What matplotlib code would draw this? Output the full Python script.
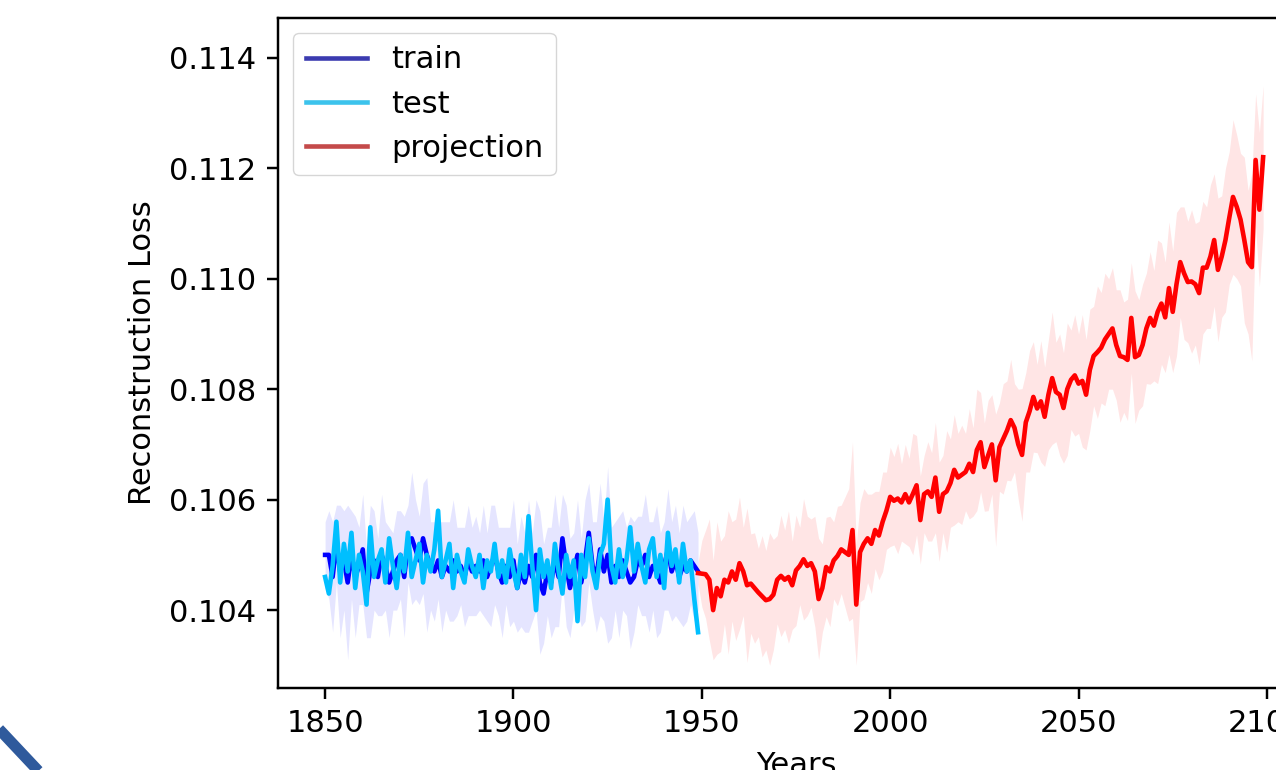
import numpy as np
import matplotlib
matplotlib.use("Agg")
import matplotlib.pyplot as plt
from matplotlib.lines import Line2D

# ---------------- data ----------------
hist_start = 1850
proj_start = 1949

train = [0.1050, 0.1050, 0.1046, 0.1052, 0.1047, 0.1049, 0.1045, 0.1050, 0.1046, 0.1048,
         0.1051, 0.1043, 0.1047, 0.1049, 0.1046, 0.1050, 0.1048, 0.1045, 0.1047, 0.1049,
         0.1050, 0.1046, 0.1052, 0.1053, 0.1051, 0.1049, 0.1053, 0.1050, 0.1048, 0.1047,
         0.1049, 0.1046, 0.1048, 0.1047, 0.1049, 0.1047, 0.1048, 0.1046, 0.1049, 0.1047,
         0.1048, 0.1047, 0.1049, 0.1046, 0.1048, 0.1050, 0.1047, 0.1045, 0.1048, 0.1046,
         0.1049, 0.1044, 0.1047, 0.1045, 0.1048, 0.1046, 0.1050, 0.1045, 0.1043, 0.1047,
         0.1045, 0.1049, 0.1046, 0.1053, 0.1048, 0.1044, 0.1047, 0.1050, 0.1045, 0.1049,
         0.1054, 0.1048, 0.1046, 0.1051, 0.1047, 0.1050, 0.1045, 0.1048, 0.1046, 0.1049,
         0.1047, 0.1045, 0.1046, 0.1049, 0.1048, 0.1050, 0.1046, 0.1048, 0.1047, 0.1045,
         0.1048, 0.1051, 0.1047, 0.1049, 0.1046, 0.1048, 0.1047, 0.1049, 0.1048, 0.1047]

train_std = [0.0006, 0.0008, 0.0010, 0.0007, 0.0012, 0.0009, 0.0014, 0.0008, 0.0011, 0.0007,
             0.0010, 0.0008, 0.0012, 0.0009, 0.0007, 0.0011, 0.0008, 0.0010, 0.0007, 0.0009,
             0.0008, 0.0011, 0.0007, 0.0012, 0.0009, 0.0008, 0.0010, 0.0014, 0.0008, 0.0009,
             0.0007, 0.0010, 0.0008, 0.0009, 0.0011, 0.0008, 0.0007, 0.0009, 0.0010, 0.0008,
             0.0009, 0.0007, 0.0010, 0.0008, 0.0011, 0.0009, 0.0008, 0.0010, 0.0007, 0.0009,
             0.0011, 0.0008, 0.0010, 0.0009, 0.0012, 0.0008, 0.0010, 0.0013, 0.0009, 0.0008,
             0.0010, 0.0012, 0.0009, 0.0008, 0.0011, 0.0009, 0.0007, 0.0010, 0.0008, 0.0011,
             0.0009, 0.0008, 0.0010, 0.0012, 0.0009, 0.0016, 0.0010, 0.0008, 0.0011, 0.0009,
             0.0008, 0.0012, 0.0010, 0.0008, 0.0009, 0.0011, 0.0010, 0.0008, 0.0012, 0.0009,
             0.0008, 0.0011, 0.0009, 0.0010, 0.0008, 0.0011, 0.0009, 0.0008, 0.0010, 0.0007]

test = [0.1046, 0.1043, 0.1048, 0.1056, 0.1045, 0.1052, 0.1047, 0.1054, 0.1044, 0.1050,
        0.1047, 0.1041, 0.1055, 0.1046, 0.1049, 0.1051, 0.1045, 0.1053, 0.1048, 0.1044,
        0.1050, 0.1047, 0.1054, 0.1046, 0.1049, 0.1052, 0.1045, 0.1050, 0.1047, 0.1051,
        0.1058, 0.1046, 0.1049, 0.1052, 0.1044, 0.1050, 0.1047, 0.1045, 0.1051, 0.1048,
        0.1046, 0.1050, 0.1044, 0.1049, 0.1047, 0.1052, 0.1046, 0.1049, 0.1045, 0.1051,
        0.1047, 0.1044, 0.1050, 0.1046, 0.1057, 0.1048, 0.1040, 0.1051, 0.1046, 0.1049,
        0.1044, 0.1052, 0.1047, 0.1043, 0.1050, 0.1046, 0.1049, 0.1038, 0.1050, 0.1046,
        0.1053, 0.1047, 0.1044, 0.1050, 0.1052, 0.1060, 0.1048, 0.1045, 0.1051, 0.1046,
        0.1049, 0.1055, 0.1047, 0.1052, 0.1048, 0.1045, 0.1051, 0.1053, 0.1046, 0.1050,
        0.1044, 0.1054, 0.1048, 0.1051, 0.1045, 0.1052, 0.1047, 0.1049, 0.1042, 0.1036]

projection = [0.10467, 0.10466, 0.10465, 0.10455, 0.10400, 0.10440, 0.10425, 0.10455, 0.10450, 0.10470,
              0.10455, 0.10485, 0.10470, 0.10445, 0.10448, 0.10440, 0.10432, 0.10425, 0.10418, 0.10420,
              0.10428, 0.10455, 0.10462, 0.10455, 0.10460, 0.10445, 0.10472, 0.10480, 0.10492, 0.10480,
              0.10485, 0.10470, 0.10420, 0.10440, 0.10478, 0.10470, 0.10490, 0.10498, 0.10510, 0.10505,
              0.10500, 0.10545, 0.10410, 0.10505, 0.10520, 0.10530, 0.10520, 0.10545, 0.10535, 0.10560,
              0.10580, 0.10605, 0.10598, 0.10602, 0.10595, 0.10610, 0.10595, 0.10610, 0.10626, 0.10563,
              0.10610, 0.10615, 0.10605, 0.10640, 0.10578, 0.10610, 0.10615, 0.10630, 0.10654, 0.10640,
              0.10645, 0.10650, 0.10665, 0.10650, 0.10690, 0.10704, 0.10659, 0.10680, 0.10700, 0.10635,
              0.10695, 0.10710, 0.10725, 0.10744, 0.10730, 0.10700, 0.10681, 0.10740, 0.10760, 0.10786,
              0.10765, 0.10778, 0.10750, 0.10790, 0.10820, 0.10795, 0.10790, 0.10766, 0.10800, 0.10817,
              0.10825, 0.10810, 0.10815, 0.10790, 0.10835, 0.10860, 0.10867, 0.10875, 0.10890, 0.10900,
              0.10910, 0.10880, 0.10860, 0.10858, 0.10853, 0.10929, 0.10858, 0.10862, 0.10880, 0.10910,
              0.10929, 0.10915, 0.10940, 0.10955, 0.10930, 0.10983, 0.10940, 0.10990, 0.11030, 0.11010,
              0.10994, 0.10995, 0.10990, 0.10974, 0.11020, 0.11020, 0.11040, 0.11070, 0.11016, 0.11040,
              0.11070, 0.11110, 0.11148, 0.11130, 0.11107, 0.11070, 0.11030, 0.11021, 0.11215, 0.11125,
              0.11220]

projection_std = [0.0002, 0.0006, 0.0008, 0.0011, 0.0009, 0.0012, 0.0010, 0.0008, 0.0013, 0.0009,
                  0.0011, 0.0012, 0.0008, 0.0014, 0.0009, 0.0010, 0.0008, 0.0011, 0.0009, 0.0012,
                  0.0010, 0.0008, 0.0011, 0.0009, 0.0012, 0.0008, 0.0010, 0.0007, 0.0011, 0.0009,
                  0.0008, 0.0010, 0.0011, 0.0008, 0.0009, 0.0010, 0.0007, 0.0009, 0.0008, 0.0010,
                  0.0012, 0.0016, 0.0011, 0.0009, 0.0010, 0.0008, 0.0009, 0.0007, 0.0008, 0.0009,
                  0.0007, 0.0009, 0.0008, 0.0010, 0.0007, 0.0009, 0.0008, 0.0011, 0.0009, 0.0008,
                  0.0007, 0.0009, 0.0008, 0.0010, 0.0009, 0.0007, 0.0011, 0.0008, 0.0010, 0.0008,
                  0.0009, 0.0007, 0.0010, 0.0008, 0.0011, 0.0009, 0.0008, 0.0010, 0.0009, 0.0012,
                  0.0008, 0.0010, 0.0009, 0.0011, 0.0008, 0.0010, 0.0012, 0.0009, 0.0011, 0.0010,
                  0.0008, 0.0011, 0.0009, 0.0010, 0.0012, 0.0009, 0.0011, 0.0010, 0.0012, 0.0009,
                  0.0011, 0.0009, 0.0012, 0.0010, 0.0011, 0.0009, 0.0012, 0.0010, 0.0012, 0.0010,
                  0.0011, 0.0010, 0.0012, 0.0010, 0.0011, 0.0010, 0.0012, 0.0010, 0.0011, 0.0010,
                  0.0012, 0.0010, 0.0013, 0.0011, 0.0010, 0.0012, 0.0011, 0.0013, 0.0010, 0.0012,
                  0.0011, 0.0013, 0.0011, 0.0013, 0.0012, 0.0011, 0.0013, 0.0012, 0.0013, 0.0011,
                  0.0013, 0.0012, 0.0014, 0.0013, 0.0012, 0.0015, 0.0013, 0.0017, 0.0012, 0.0014,
                  0.0013]

labels = ["train", "test", "projection"]
xticks = [1850, 1900, 1950, 2000, 2050, 2100]
yticks = [0.104, 0.106, 0.108, 0.110, 0.112, 0.114]

# ---------------- figure ----------------
S = 2.2  # scale factor relative to default matplotlib sizes
plt.rcParams.update({
    "font.family": ["DejaVu Sans"],
    "font.size": 10 * S,
    "axes.linewidth": 0.8 * S,
    "xtick.major.size": 3.5 * S, "ytick.major.size": 3.5 * S,
    "xtick.major.width": 0.8 * S, "ytick.major.width": 0.8 * S,
    "xtick.major.pad": 3.5 * S, "ytick.major.pad": 3.5 * S,
    "axes.labelpad": 4 * S,
    "legend.fontsize": 10 * S,
})

fig = plt.figure(figsize=(12.76, 7.70), dpi=100)
ax = fig.add_axes([278 / 1276, 82 / 770, 1036 / 1276, 670 / 770])

tr = np.array(train); trs = np.array(train_std)
te = np.array(test)
pr = np.array(projection); prs = np.array(projection_std)
yh = np.arange(hist_start, hist_start + len(tr))
yp = np.arange(proj_start, proj_start + len(pr))

lw = 1.5 * S
ax.fill_between(yh, tr - trs, tr + trs, color="blue", alpha=0.1, linewidth=0)
ax.fill_between(yp, pr - prs, pr + prs, color="red", alpha=0.1, linewidth=0)
ax.plot(yh, tr, color="blue", lw=lw)
ax.plot(yh, te, color="deepskyblue", lw=lw)
ax.plot(yp, pr, color="red", lw=lw)

ax.set_xlim(1837.5, 2112.5)
ax.set_ylim(0.10259, 0.11472)
ax.set_xticks(xticks)
ax.set_yticks(yticks)
ax.set_xlabel("Years")
ax.set_ylabel("Reconstruction Loss")

handles = [Line2D([], [], color="#3b3bb0", lw=lw),
           Line2D([], [], color="#3cc3ec", lw=lw),
           Line2D([], [], color="#c44a4a", lw=lw)]
ax.legend(handles, labels, loc="upper left")

# decorative arc in the lower-left corner
fig.add_artist(Line2D([-2 / 1276, 45 / 1276], [1 - 728 / 770, 1 - 778 / 770],
                      transform=fig.transFigure, color="#2f5a9c", lw=8,
                      solid_capstyle="butt"))

fig.savefig("out.png", dpi=100)
